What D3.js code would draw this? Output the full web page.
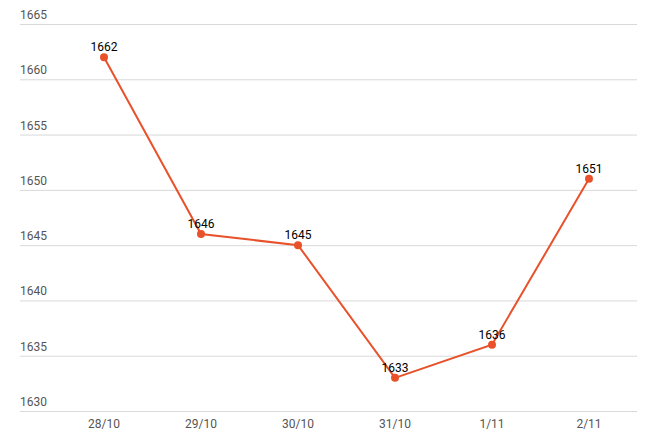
<!DOCTYPE html>
<html><head><meta charset="utf-8">
<script src="https://cdn.jsdelivr.net/npm/d3@7"></script>
<style>body{margin:0;background:#fff}text{font-family:Roboto,sans-serif}</style>
</head><body><svg id="c" width="645" height="447"></svg>
<script>
var dates = ["28/10", "29/10", "30/10", "31/10", "1/11", "2/11"];
var values = [1662, 1646, 1645, 1633, 1636, 1651];
var yTicks = [1630, 1635, 1640, 1645, 1650, 1655, 1660, 1665];

var svg = d3.select("#c");
var x = d3.scaleBand().domain(dates).range([55.5, 637.5]);
var y = d3.scaleLinear().domain([1630, 1665]).range([411, 24]);

// grid + y labels
yTicks.forEach(function(t) {
  svg.append("line").attr("x1", 20).attr("x2", 637)
    .attr("y1", y(t) + 0.5).attr("y2", y(t) + 0.5)
    .attr("stroke", "#d9d9d9").attr("stroke-width", 1);
  svg.append("text").attr("x", 20).attr("y", y(t) - 5)
    .attr("font-size", 12).attr("fill", "#555").text(t);
});

// x labels
dates.forEach(function(d) {
  svg.append("text").attr("x", x(d) + x.bandwidth() / 2).attr("y", 428)
    .attr("text-anchor", "middle").attr("font-size", 12).attr("fill", "#555").text(d);
});

var cx = function(d, i) { return x(dates[i]) + x.bandwidth() / 2; };
var line = d3.line().x(cx).y(function(d) { return y(d); });
svg.append("path").datum(values).attr("d", line)
  .attr("fill", "none").attr("stroke", "#e8512a").attr("stroke-width", 2);

svg.selectAll("circle.pt").data(values).enter().append("circle")
  .attr("cx", cx).attr("cy", function(d) { return y(d); })
  .attr("r", 4).attr("fill", "#e8512a");

svg.selectAll("text.lbl").data(values).enter().append("text")
  .attr("x", cx).attr("y", function(d) { return y(d) - 6; })
  .attr("text-anchor", "middle").attr("font-size", 12).attr("fill", "#000")
  .text(function(d) { return d; });
</script></body></html>
